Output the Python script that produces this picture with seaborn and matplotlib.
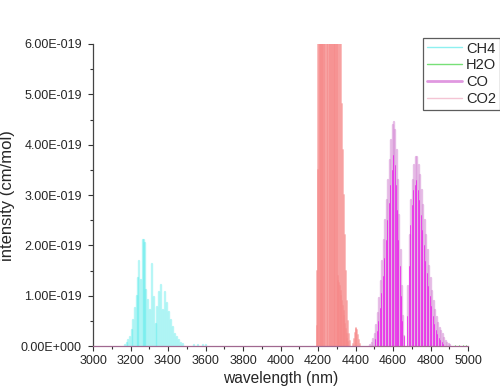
import numpy as np
import pandas as pd
import matplotlib
matplotlib.use('Agg')
import matplotlib.pyplot as plt
from matplotlib.lines import Line2D
from matplotlib.ticker import FuncFormatter, MultipleLocator
import seaborn as sns

# line positions (nm) and intensities (units of 1e-19 cm/mol)
ch4_wl = [3170, 3179, 3188, 3197, 3206, 3215, 3224, 3232, 3238, 3247, 3256, 3266, 3270, 3276,
          3284, 3295, 3306, 3317, 3325, 3334, 3343, 3352, 3363, 3371, 3384, 3393, 3405, 3416,
          3427, 3437, 3448, 3459, 3469, 3480, 3540, 3560, 3585, 3600]
ch4_int = [0.03, 0.06, 0.12, 0.18, 0.32, 0.52, 0.75, 1.0, 1.36, 1.69, 1.31, 2.11, 2.11, 2.05,
           1.11, 0.91, 0.72, 1.64, 0.98, 0.45, 0.78, 1.08, 1.21, 0.72, 1.08, 0.85, 0.68, 0.52,
           0.38, 0.25, 0.18, 0.12, 0.07, 0.04, 0.02, 0.03, 0.02, 0.02]

h2o_wl = [4930, 4950, 4975, 4990]
h2o_int = [0.02, 0.03, 0.02, 0.03]

co_wl = [4478, 4486, 4494, 4502, 4510, 4518, 4526, 4534, 4542, 4550, 4558, 4566, 4574, 4582,
         4590, 4598, 4605, 4612, 4619, 4626, 4633, 4640, 4647, 4654, 4661,
         4680, 4688, 4696, 4704, 4712, 4720, 4728, 4736, 4744, 4752, 4760, 4768, 4776, 4784,
         4792, 4800, 4808, 4816, 4824, 4832, 4840, 4848, 4856, 4864, 4872, 4880, 4888, 4896, 4904]
co_int = [0.03, 0.07, 0.14, 0.25, 0.42, 0.65, 0.95, 1.3, 1.7, 2.1, 2.5, 2.9, 3.3, 3.7,
          4.1, 4.4, 4.45, 4.3, 3.9, 3.3, 2.6, 1.9, 1.2, 0.6, 0.2,
          1.2, 2.2, 2.9, 3.3, 3.6, 3.75, 3.76, 3.6, 3.4, 3.1, 2.8, 2.5, 2.2, 1.9,
          1.6, 1.35, 1.1, 0.9, 0.72, 0.58, 0.46, 0.37, 0.3, 0.24, 0.17, 0.11, 0.07, 0.04, 0.02]

co_strong_wl = [4506, 4514, 4522, 4530, 4538, 4546, 4554, 4562, 4570, 4578, 4586, 4594, 4601,
                4608, 4615, 4622, 4629, 4636, 4643, 4650, 4657,
                4676, 4684, 4692, 4700, 4708, 4716, 4724, 4732, 4740, 4748, 4756, 4764, 4772,
                4780, 4788, 4796, 4804, 4812, 4820, 4828, 4836, 4844, 4852, 4860, 4868]
co_strong_int = [0.15, 0.3, 0.5, 0.75, 1.05, 1.4, 1.75, 2.1, 2.5, 2.85, 3.2, 3.5, 3.8,
                 3.6, 3.2, 2.7, 2.1, 1.6, 1.0, 0.5, 0.2,
                 0.6, 1.6, 2.4, 2.8, 3.1, 3.2, 3.3, 3.1, 2.9, 2.6, 2.3, 2.0, 1.7,
                 1.45, 1.2, 1.0, 0.8, 0.6, 0.45, 0.33, 0.24, 0.17, 0.12, 0.08, 0.05]

co2_wl = [4193, 4196, 4199, 4202, 4205, 4208, 4211, 4214, 4217, 4220, 4223, 4226, 4229, 4232,
          4235, 4238, 4247, 4250, 4253, 4256, 4263, 4266, 4269, 4272, 4275, 4281, 4284, 4287,
          4290, 4293, 4296, 4299, 4302, 4307, 4313, 4319, 4325, 4330, 4335, 4340, 4345, 4350,
          4355, 4360, 4365, 4370,
          4304, 4308, 4312, 4316, 4320, 4324, 4328, 4332, 4336, 4340, 4344, 4348, 4352, 4356, 4360,
          4385, 4390, 4395, 4400, 4405, 4410, 4415, 4420, 4425]
co2_int = [0.4, 1.5, 3.5, 6.5, 9.0, 11, 13, 15, 16, 17, 17, 16, 15, 14,
           12, 10, 8, 7, 6.5, 7.5, 9, 12, 14, 15, 14, 13, 12, 11,
           10, 9, 8, 7.5, 7, 6.8, 6.6, 6.5, 6.4, 4.8, 3.9, 3.0, 2.2, 1.5,
           0.9, 0.5, 0.25, 0.1,
           1.4, 1.3, 1.25, 1.2, 1.1, 1.0, 0.9, 0.8, 0.7, 0.6, 0.45, 0.35, 0.25, 0.15, 0.08,
           0.05, 0.15, 0.27, 0.34, 0.36, 0.32, 0.22, 0.12, 0.05]


def sticks(wl, inten):
    rows = []
    for i, (w, v) in enumerate(zip(wl, inten)):
        rows.append((i, w, 0.0))
        rows.append((i, w, v * 1e-19))
    return pd.DataFrame(rows, columns=['stick', 'wavelength', 'intensity'])


def sci(v, pos):
    if v == 0:
        return '0.00E+000'
    exp = int(np.floor(np.log10(abs(v)) + 1e-9))
    mant = v / 10 ** exp
    return f'{mant:.2f}E{"+" if exp >= 0 else "-"}{abs(exp):03d}'


sns.set_style('ticks')
plt.rcParams['font.family'] = ['Liberation Sans', 'DejaVu Sans']

fig, ax = plt.subplots(figsize=(5, 3.89), dpi=100)
fig.subplots_adjust(left=0.186, right=0.936, bottom=0.11, top=0.887)

series = [
    (ch4_wl, ch4_int, '#33e6e6', 1.7, 0.35),
    (h2o_wl, h2o_int, '#55dd55', 0.8, 0.6),
    (co2_wl, co2_int, '#f68888', 1.4, 0.55),
    (co_wl, co_int, '#d58bd5', 1.7, 0.55),
    (co_strong_wl, co_strong_int, '#ee00ee', 0.6, 0.75),
]
for wl, inten, col, lw, a in series:
    sns.lineplot(data=sticks(wl, inten), x='wavelength', y='intensity', units='stick',
                 estimator=None, sort=False, color=col, lw=lw, alpha=a, ax=ax, legend=False)

ax.set_xlim(3000, 5000)
ax.set_ylim(0, 6e-19)
ax.xaxis.set_major_locator(MultipleLocator(200))
ax.xaxis.set_minor_locator(MultipleLocator(100))
ax.yaxis.set_major_locator(MultipleLocator(1e-19))
ax.yaxis.set_minor_locator(MultipleLocator(0.5e-19))
ax.yaxis.set_major_formatter(FuncFormatter(sci))
ax.tick_params(which='major', length=3.5, width=0.8, color='#333333', labelsize=9)
ax.tick_params(axis='y', which='major', pad=4.5)
ax.tick_params(axis='x', which='major', pad=3)
ax.tick_params(which='minor', length=2.2, width=0.8, color='#333333')
sns.despine(ax=ax)
ax.spines['left'].set_color('#444444')
ax.spines['bottom'].set_color('#a06890')
ax.spines['left'].set_linewidth(0.9)
ax.spines['bottom'].set_linewidth(0.9)

ax.set_xlabel('wavelength (nm)', fontsize=11.2, labelpad=3)
ax.set_ylabel('intensity (cm/mol)', fontsize=12, labelpad=4)

handles = [
    Line2D([], [], color='#8ef0f0', lw=1.0),
    Line2D([], [], color='#77e077', lw=1.0),
    Line2D([], [], color='#e098e0', lw=2.0),
    Line2D([], [], color='#f4c4d4', lw=1.0),
]
leg = ax.legend(handles, ['CH4', 'H2O', 'CO', 'CO2'], loc='upper left',
                bbox_to_anchor=(0.88, 1.02), frameon=True, fancybox=False,
                edgecolor='#333333', fontsize=10.5, handlelength=2.4, handletextpad=0.3,
                labelspacing=0.2, borderpad=0.25, borderaxespad=0)
leg.get_frame().set_linewidth(0.9)

fig.savefig('out.png', dpi=100)
